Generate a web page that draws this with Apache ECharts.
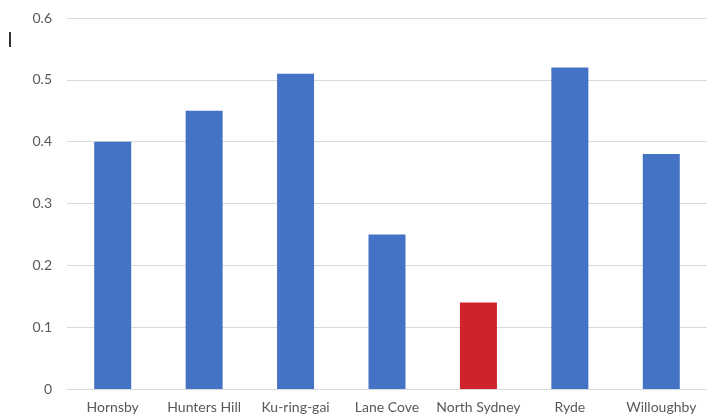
<!DOCTYPE html>
<html>
<head>
<meta charset="utf-8">
<script src="https://cdn.jsdelivr.net/npm/echarts@6/dist/echarts.min.js"></script>
<style>html,body{margin:0;padding:0;background:#fff;}#c{width:707px;height:419px;}</style>
</head>
<body>
<div id="c"></div>
<script>
const categories = ["Hornsby", "Hunters Hill", "Ku-ring-gai", "Lane Cove", "North Sydney", "Ryde", "Willoughby"];
const values = [0.40, 0.45, 0.51, 0.25, 0.14, 0.52, 0.38];
const highlight = "North Sydney";
const yTicks = [0, 0.1, 0.2, 0.3, 0.4, 0.5, 0.6];

const blue = "#4472C4", red = "#D0222A";
const chart = echarts.init(document.getElementById("c"), null, {renderer: "canvas"});
chart.setOption({
  animation: false,
  backgroundColor: "#fff",
  grid: {left: 67, top: 18, width: 645, bottom: 30, containLabel: false},
  xAxis: {
    type: "category",
    data: categories,
    axisLine: {lineStyle: {color: "#D9D9D9", width: 1}},
    axisTick: {show: false},
    axisLabel: {color: "#595959", fontFamily: "Lato", fontSize: 14, margin: 11, interval: 0}
  },
  yAxis: {
    type: "value",
    min: yTicks[0],
    max: yTicks[yTicks.length - 1],
    interval: 0.1,
    axisLine: {show: false},
    axisTick: {show: false},
    splitLine: {lineStyle: {color: "#D9D9D9", width: 1}},
    axisLabel: {color: "#595959", fontFamily: "Lato", fontSize: 14, margin: 15,
      formatter: v => String(Math.round(v * 10) / 10)}
  },
  series: [{
    type: "bar",
    barWidth: 37,
    data: values.map((v, i) => ({value: v, itemStyle: {color: categories[i] === highlight ? red : blue}}))
  }],
  graphic: [{type: "rect", left: 9, top: 32, shape: {width: 2, height: 15}, style: {fill: "#333"}}]
});
</script>
</body>
</html>
